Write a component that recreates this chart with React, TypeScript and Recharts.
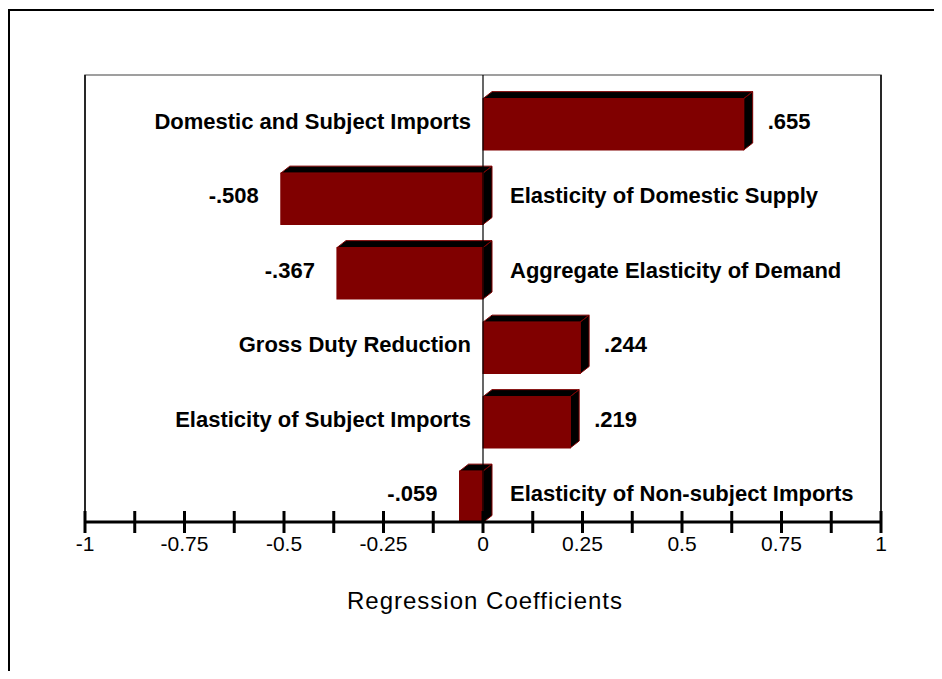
import { BarChart, Bar, XAxis, YAxis, ReferenceLine, ReferenceArea, LabelList } from 'recharts';

const categories = [
  'Domestic and Subject Imports',
  'Elasticity of Domestic Supply',
  'Aggregate Elasticity of Demand',
  'Gross Duty Reduction',
  'Elasticity of Subject Imports',
  'Elasticity of Non-subject Imports',
];
const coefficients = [0.655, -0.508, -0.367, 0.244, 0.219, -0.059];
const xTicks = [-1, -0.875, -0.75, -0.625, -0.5, -0.375, -0.25, -0.125, 0, 0.125, 0.25, 0.375, 0.5, 0.625, 0.75, 0.875, 1];

const data = categories.map((name, i) => ({ name, value: coefficients[i] }));

const FONT = '"Liberation Sans", Arial, sans-serif';
const RED = '#800000';
const DX = 9;
const DY = 7;
const FRONT = 0.685; // share of the band taken by the front face

// front face sits at the bottom of the band
function faceOf(p: any) {
  const left = Math.min(p.x, p.x + p.width);
  const right = Math.max(p.x, p.x + p.width);
  const bottom = p.y + p.height;
  const top = bottom - p.height * FRONT;
  return { left, right, top, bottom };
}

function Bar3D(props: any) {
  const { left: L, right: R, top: T, bottom: B } = faceOf(props);
  return (
    <g>
      <polygon points={`${L},${T} ${L + DX},${T - DY} ${R + DX},${T - DY} ${R},${T}`} fill="#000" stroke={RED} strokeWidth={1} />
      <polygon points={`${R},${T} ${R + DX},${T - DY} ${R + DX},${B - DY} ${R},${B}`} fill="#000" stroke={RED} strokeWidth={1} />
      <rect x={L} y={T} width={R - L} height={B - T} fill={RED} stroke={RED} strokeWidth={1} />
    </g>
  );
}

const fmt = (v: number) => (v < 0 ? '-' : '') + Math.abs(v).toFixed(3).replace(/^0/, '');

function ValueLabel(props: any) {
  const { left, right, top, bottom } = faceOf(props);
  const v = coefficients[props.index];
  const cy = (top + bottom) / 2 - 3;
  const pos = v >= 0;
  return (
    <text x={pos ? right + 24 : left - 22} y={cy} textAnchor={pos ? 'start' : 'end'} dominantBaseline="central"
      fontFamily={FONT} fontWeight="bold" fontSize={22} fill="#000">{fmt(v)}</text>
  );
}

function NameLabel(props: any) {
  const { left, right, top, bottom } = faceOf(props);
  const v = coefficients[props.index];
  const cy = (top + bottom) / 2 - 3;
  const pos = v >= 0;
  return (
    <text x={pos ? left - 12 : right + 27} y={cy} textAnchor={pos ? 'end' : 'start'} dominantBaseline="central"
      fontFamily={FONT} fontWeight="bold" fontSize={22} fill="#000">{categories[props.index]}</text>
  );
}

function AxisTick(props: any) {
  const { x, y, payload } = props;
  const v = payload.value;
  const labelled = Math.abs(v * 4 - Math.round(v * 4)) < 1e-9;
  return (
    <g>
      <line x1={x} x2={x} y1={y - 11} y2={y + 11} stroke="#000" strokeWidth={3} />
      {labelled && (
        <text x={x} y={y + 21} textAnchor="middle" dominantBaseline="central" fontFamily={FONT} fontSize={21} fill="#000">{String(v)}</text>
      )}
    </g>
  );
}

export default function App() {
  return (
    <div style={{ position: 'relative', width: 926, height: 663 }}>
      <div style={{ position: 'absolute', left: 0, top: 1, width: 932, height: 670, borderLeft: '2px solid #000', borderTop: '2px solid #000', boxSizing: 'border-box' }} />
      <div style={{ position: 'absolute', left: -8, top: -8 }}>
        <BarChart width={942} height={679} data={data} layout="vertical" barCategoryGap={0}
          margin={{ top: 75, right: 61, left: 85, bottom: 127 }}>
          <XAxis type="number" domain={[-1, 1]} ticks={xTicks} interval={0} height={30}
            axisLine={{ stroke: '#000', strokeWidth: 3 }} tickLine={false} tickSize={0} tickMargin={0} tick={<AxisTick />} />
          <YAxis type="category" dataKey="name" hide />
          <ReferenceArea x1={-1} x2={1} fill="none" stroke="#808080" strokeWidth={1.5} />
          <ReferenceLine x={-1} stroke="#000" strokeWidth={1.5} />
          <ReferenceLine x={1} stroke="#000" strokeWidth={1.5} />
          <ReferenceLine x={0} stroke="#000" strokeWidth={1.2} />
          <Bar dataKey="value" shape={<Bar3D />} isAnimationActive={false}>
            <LabelList dataKey="value" content={<ValueLabel />} />
            <LabelList dataKey="name" content={<NameLabel />} />
          </Bar>
        </BarChart>
        <div style={{ position: 'absolute', left: 0, top: 586, width: 970, textAlign: 'center', fontFamily: FONT, fontSize: 24, letterSpacing: 1, color: '#000', lineHeight: '30px' }}>
          Regression Coefficients
        </div>
      </div>
    </div>
  );
}
